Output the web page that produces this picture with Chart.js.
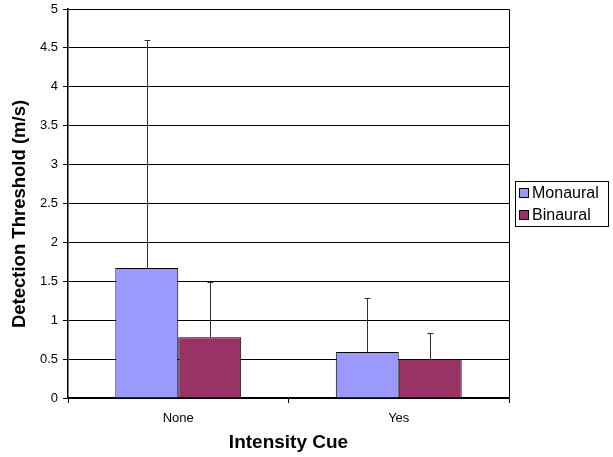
<!DOCTYPE html>
<html>
<head>
<meta charset="utf-8">
<script src="https://cdn.jsdelivr.net/npm/chart.js@4/dist/chart.umd.min.js"></script>
<style>
  html, body { margin: 0; padding: 0; background: #fff; }
  #wrap { width: 613px; height: 457px; }
</style>
</head>
<body>
<div id="wrap"><canvas id="chart" width="613" height="457"></canvas></div>
<script>
// dados
const categories = ['None', 'Yes'];
const monaural = [1.67, 0.59];
const binaural = [0.78, 0.50];
const monauralErrTop = [4.60, 1.28];
const binauralErrTop = [1.49, 0.84];
const yTicks = [0, 0.5, 1, 1.5, 2, 2.5, 3, 3.5, 4, 4.5, 5];
const yTitle = 'Detection Threshold (m/s)';

const FONT = 'Arial, "Liberation Sans", sans-serif';

// barras de erro (só para cima)
const errorBars = {
  id: 'errorBars',
  afterDatasetsDraw(chart) {
    const ctx = chart.ctx;
    const y = chart.scales.y;
    ctx.save();
    ctx.strokeStyle = '#333';
    ctx.lineWidth = 1;
    chart.data.datasets.forEach((ds, i) => {
      const meta = chart.getDatasetMeta(i);
      meta.data.forEach((bar, j) => {
        const x = Math.round(bar.x) + 0.5;
        const yTop = Math.round(y.getPixelForValue(ds.errTop[j])) + 0.5;
        ctx.beginPath();
        ctx.moveTo(x, bar.y);
        ctx.lineTo(x, yTop);
        ctx.moveTo(x - 3, yTop);
        ctx.lineTo(x + 3, yTop);
        ctx.stroke();
      });
    });
    ctx.restore();
  }
};

// borda da área, título do eixo y e legenda com caixa
const frameAndLegend = {
  id: 'frameAndLegend',
  afterDraw(chart) {
    const ctx = chart.ctx;
    const a = chart.chartArea;
    ctx.save();
    ctx.strokeStyle = '#000';
    ctx.lineWidth = 1;
    ctx.beginPath();
    ctx.moveTo(a.left, Math.round(a.top) + 0.5);
    ctx.lineTo(Math.round(a.right) + 0.5, Math.round(a.top) + 0.5);
    ctx.lineTo(Math.round(a.right) + 0.5, a.bottom);
    ctx.stroke();

    // título do eixo y (um pouco abaixo do centro, como no original)
    ctx.save();
    ctx.translate(20, 214);
    ctx.rotate(-Math.PI / 2);
    ctx.font = 'bold 18.5px ' + FONT;
    ctx.fillStyle = '#000';
    ctx.textAlign = 'center';
    ctx.textBaseline = 'middle';
    ctx.fillText(yTitle, 0, 0);
    ctx.restore();

    // legenda
    const lx = 515, ly = 181, lw = 93, lh = 45;
    ctx.strokeRect(lx + 0.5, ly + 0.5, lw, lh);
    ctx.font = '16px ' + FONT;
    ctx.textBaseline = 'middle';
    chart.data.datasets.forEach((ds, i) => {
      const cy = ly + 12 + i * 22;
      ctx.fillStyle = ds.backgroundColor;
      ctx.fillRect(lx + 4.5, cy - 4.5, 9, 9);
      ctx.strokeStyle = '#000';
      ctx.strokeRect(lx + 4.5, cy - 4.5, 9, 9);
      ctx.fillStyle = '#000';
      ctx.fillText(ds.label, lx + 17, cy + 1);
    });
    ctx.restore();
  }
};

new Chart(document.getElementById('chart'), {
  type: 'bar',
  data: {
    labels: categories,
    datasets: [
      { label: 'Monaural', data: monaural, errTop: monauralErrTop,
        backgroundColor: '#9999FF', borderColor: '#000', borderWidth: 1 },
      { label: 'Binaural', data: binaural, errTop: binauralErrTop,
        backgroundColor: '#993366', borderColor: '#000', borderWidth: 1 }
    ]
  },
  options: {
    responsive: false,
    animation: false,
    layout: { padding: { left: 0, right: 104, top: 9, bottom: 0 } },
    datasets: { bar: { categoryPercentage: 0.571, barPercentage: 1.0 } },
    plugins: { legend: { display: false }, tooltip: { enabled: false } },
    scales: {
      x: {
        offset: true,
        grid: { offset: true, drawOnChartArea: false, drawTicks: true, tickLength: 5, color: '#000' },
        border: { color: '#000', width: 1.5 },
        ticks: { color: '#000', font: { family: FONT, size: 13 }, padding: 8 },
        title: { display: true, text: 'Intensity Cue', color: '#000',
                 font: { family: FONT, size: 19, weight: 'bold' }, padding: { top: 0, bottom: 3 } },
        afterFit(scale) { scale.height = 59; }
      },
      y: {
        min: 0, max: 5,
        afterBuildTicks(scale) { scale.ticks = yTicks.map(v => ({ value: v })); },
        grid: { color: '#000', lineWidth: 1, tickLength: 5 },
        border: { color: '#000', width: 1.5 },
        ticks: { color: '#000', font: { family: FONT, size: 13 }, padding: 5,
                 callback: v => String(v) },
        title: { display: false },
        afterFit(scale) {
          scale.width = 68;
          scale.paddingTop = 0;
          scale.paddingBottom = 0;
        }
      }
    }
  },
  plugins: [errorBars, frameAndLegend]
});
</script>
</body>
</html>
